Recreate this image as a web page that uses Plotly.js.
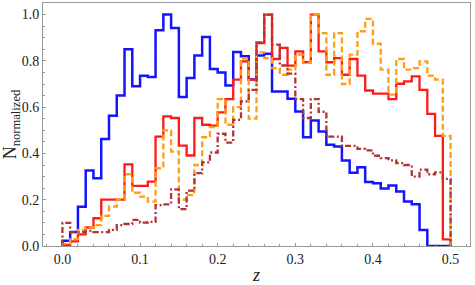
<!DOCTYPE html>
<html>
<head>
<meta charset="utf-8">
<script src="https://cdn.plot.ly/plotly-3.0.1.min.js"></script>
<style>
  html, body { margin: 0; padding: 0; background: #fff; }
  #chart { width: 475px; height: 285px; }
</style>
</head>
<body>
<div id="chart"></div>
<script>
// Bin edges of the redshift histograms (width 0.01)
const binEdges = [0.00,0.01,0.02,0.03,0.04,0.05,0.06,0.07,0.08,0.09,
                  0.10,0.11,0.12,0.13,0.14,0.15,0.16,0.17,0.18,0.19,
                  0.20,0.21,0.22,0.23,0.24,0.25,0.26,0.27,0.28,0.29,
                  0.30,0.31,0.32,0.33,0.34,0.35,0.36,0.37,0.38,0.39,
                  0.40,0.41,0.42,0.43,0.44,0.45,0.46,0.47,0.48,0.49,0.50];

const blueValues = [0.023,0.06,0.17,0.326,0.293,0.462,0.563,0.65,0.85,0.69,
                    0.736,0.73,0.932,1.0,0.942,0.644,0.726,0.823,0.903,0.765,
                    0.75,0.693,0.838,0.82,0.719,0.823,0.831,0.668,0.668,0.636,
                    0.581,0.47,0.542,0.495,0.437,0.43,0.369,0.317,0.34,0.277,
                    0.271,0.248,0.261,0.235,0.192,0.18,0.069,0.0,0.0,0.0];

const redValues = [0.005,0.02,0.05,0.08,0.12,0.2,0.2,0.2,0.353,0.26,
                   0.26,0.278,0.473,0.56,0.553,0.434,0.391,0.553,0.524,0.52,
                   0.577,0.635,0.719,0.798,0.719,0.877,1.0,0.808,0.856,0.779,
                   0.841,0.794,1.0,0.841,0.794,0.812,0.74,0.808,0.736,0.672,
                   0.658,0.658,0.635,0.701,0.711,0.733,0.675,0.571,0.476,0.029];

const orangeValues = [0.01,0.03,0.07,0.08,0.09,0.13,0.17,0.2,0.31,0.23,
                      0.213,0.192,0.336,0.5,0.408,0.2,0.22,0.35,0.47,0.514,
                      0.635,0.524,0.6,0.81,0.55,0.837,0.812,0.769,0.74,0.762,
                      0.827,0.791,1.0,0.92,0.74,0.92,0.70,0.827,0.928,0.981,
                      0.874,0.762,0.654,0.808,0.762,0.769,0.798,0.736,0.719,0.476];

const brownValues = [0.1,0.06,0.06,0.065,0.06,0.06,0.07,0.09,0.095,0.113,
                     0.101,0.104,0.177,0.18,0.245,0.159,0.239,0.315,0.361,0.404,
                     0.485,0.447,0.545,0.625,0.675,0.88,1.0,0.87,0.78,0.745,
                     0.635,0.553,0.635,0.58,0.473,0.473,0.433,0.433,0.42,0.413,
                     0.39,0.38,0.37,0.358,0.35,0.30,0.33,0.31,0.318,0.29];

const xTickVals = [0.0,0.1,0.2,0.3,0.4,0.5];
const yTickVals = [0.0,0.2,0.4,0.6,0.8,1.0];

function stepTrace(vals, color, width, dash) {
  const xs = [binEdges[0]];
  const ys = [0];
  for (let i = 0; i < vals.length; i++) {
    xs.push(binEdges[i]);
    ys.push(vals[i]);
  }
  xs.push(binEdges[binEdges.length - 1]);
  ys.push(0);
  return {
    type: 'scatter', mode: 'lines', x: xs, y: ys,
    line: { shape: 'hv', color: color, width: width, dash: dash },
    hoverinfo: 'skip', showlegend: false
  };
}

const traces = [
  stepTrace(blueValues, '#1414ff', 2.5, 'solid'),
  stepTrace(redValues, '#ff1a1a', 2.3, 'solid'),
  stepTrace(orangeValues, '#ff9d14', 2.3, '6px,3px'),
  stepTrace(brownValues, '#b03535', 2.3, '6px,2.5px,2px,2.5px')
];

const fontFam = 'Liberation Serif, DejaVu Serif, serif';
const layout = {
  width: 475, height: 285,
  margin: { l: 43, r: 5, t: 3, b: 39 },
  paper_bgcolor: '#fff', plot_bgcolor: '#fff',
  font: { family: fontFam, size: 13, color: '#222' },
  xaxis: {
    range: [-0.025, 0.525],
    tickvals: xTickVals, tickformat: '.1f',
    ticks: 'inside', ticklen: 3, tickcolor: '#999', tickwidth: 1,
    minor: { dtick: 0.02, ticks: 'inside', ticklen: 2, tickcolor: '#999' },
    showgrid: false, zeroline: false,
    showline: true, linecolor: '#999', linewidth: 1, mirror: true,
    tickfont: { family: fontFam, size: 14, color: '#222' },
    title: { text: '<i>z</i>', font: { family: fontFam, size: 18, color: '#222' }, standoff: 3 },
    automargin: false
  },
  yaxis: {
    range: [0, 1.05],
    tickvals: yTickVals, tickformat: '.1f',
    ticks: 'inside', ticklen: 3, tickcolor: '#999', tickwidth: 1,
    minor: { dtick: 0.05, ticks: 'inside', ticklen: 2, tickcolor: '#999' },
    showgrid: false, zeroline: false,
    showline: true, linecolor: '#999', linewidth: 1, mirror: true,
    tickfont: { family: fontFam, size: 14, color: '#222' },
    title: { text: 'N<sub>normalized</sub>', font: { family: fontFam, size: 18, color: '#222' }, standoff: 2 },
    automargin: false
  }
};

Plotly.newPlot('chart', traces, layout, { staticPlot: true, displayModeBar: false });
</script>
</body>
</html>
